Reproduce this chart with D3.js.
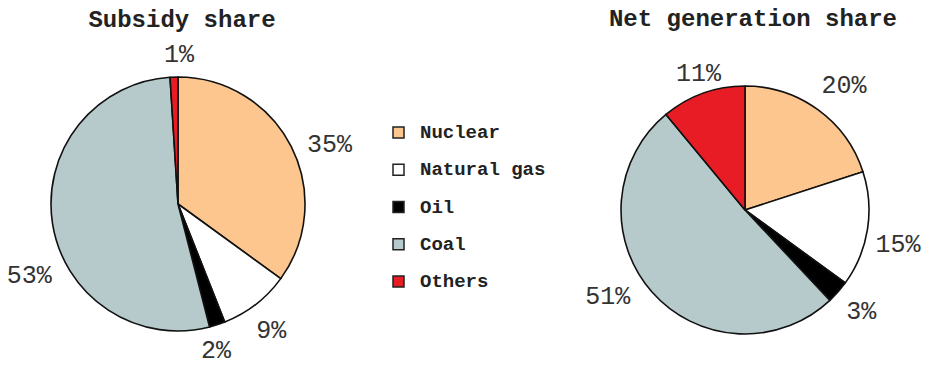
<!DOCTYPE html>
<html>
<head>
<meta charset="utf-8">
<script src="https://cdn.jsdelivr.net/npm/d3@7"></script>
<style>
  html, body { margin: 0; padding: 0; background: #fff; }
  svg { display: block; }
  text { font-family: "Nimbus Mono PS", "Nimbus Mono L", "Courier New", Courier, "Liberation Mono", monospace; fill: #222; }
</style>
</head>
<body>
<svg id="chart" width="931" height="365"></svg>
<script>
// Energy sources, in drawing order (clockwise from 12 o'clock)
const categories = ["Nuclear", "Natural gas", "Oil", "Coal", "Others"];
const subsidyShare = [35, 9, 2, 53, 1];
const generationShare = [20, 15, 3, 51, 11];
const titles = ["Subsidy share", "Net generation share"];

const colors = ["#fcc68e", "#ffffff", "#000000", "#b7cacb", "#e81c25"];

// Layout of the two pies and fine offsets for their percentage labels
const pies = [
  { values: subsidyShare, title: titles[0], cx: 178, cy: 204, r: 127, titleX: 182, titleY: 27,
    nudge: [[10, 14], [-4, 2], [-11, -3], [8, 48], [6, 10]] },
  { values: generationShare, title: titles[1], cx: 745, cy: 210, r: 124, titleX: 753, titleY: 26,
    nudge: [[8, 2], [0, 11], [0, 0], [-21, -15], [6, 10]] }
];

const svg = d3.select("#chart");
const color = d3.scaleOrdinal().domain(categories).range(colors);

const pie = d3.pie().sort(null).value(d => d.value);

pies.forEach(p => {
  const data = categories.map((c, i) => ({ name: c, value: p.values[i], nudge: p.nudge[i] }));
  const arcs = pie(data);
  const arc = d3.arc().innerRadius(0).outerRadius(p.r);
  const labelArc = d3.arc().innerRadius(p.r * 1.25).outerRadius(p.r * 1.25);

  const g = svg.append("g").attr("transform", `translate(${p.cx},${p.cy})`);

  g.selectAll("path")
    .data(arcs)
    .join("path")
    .attr("d", arc)
    .attr("fill", d => color(d.data.name))
    .attr("stroke", "#111")
    .attr("stroke-width", 1.6)
    .attr("stroke-linejoin", "round");

  g.selectAll("text.pct")
    .data(arcs)
    .join("text")
    .attr("class", "pct")
    .attr("x", d => labelArc.centroid(d)[0] + d.data.nudge[0])
    .attr("y", d => labelArc.centroid(d)[1] + d.data.nudge[1])
    .attr("text-anchor", "middle")
    .attr("dominant-baseline", "central")
    .style("font-size", "25px")
    .style("fill", "#333")
    .text(d => d.data.value + "%");

  svg.append("text")
    .attr("x", p.titleX)
    .attr("y", p.titleY)
    .attr("text-anchor", "middle")
    .style("font-size", "24px")
    .style("font-weight", "bold")
    .text(p.title);
});

// Legend
const legendY = d3.scalePoint().domain(categories).range([133, 282]);
const legend = svg.append("g");
const items = legend.selectAll("g")
  .data(categories)
  .join("g")
  .attr("transform", d => `translate(393,${legendY(d)})`);

items.append("rect")
  .attr("x", 0).attr("y", -6)
  .attr("width", 11).attr("height", 11)
  .attr("fill", d => color(d))
  .attr("stroke", "#222")
  .attr("stroke-width", 1.5);

items.append("text")
  .attr("x", 27)
  .attr("y", 0)
  .attr("dominant-baseline", "central")
  .style("font-size", "19px")
  .style("font-weight", "bold")
  .text(d => d);
</script>
</body>
</html>
